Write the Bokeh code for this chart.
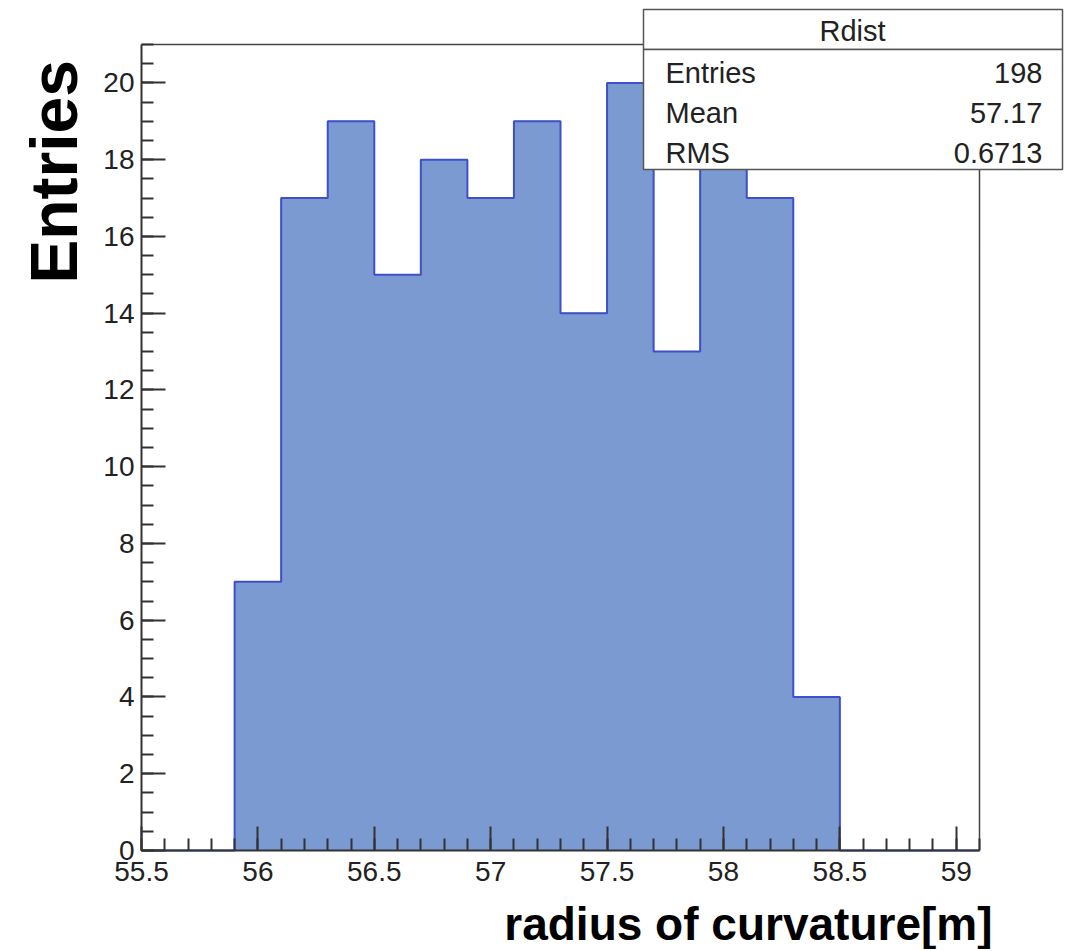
import numpy as np
from bokeh.plotting import figure
from bokeh.models import Range1d, SingleIntervalTicker, Label, BoxAnnotation, CustomJSTickFormatter
from bokeh.embed import file_html
from bokeh.resources import INLINE

# ---- data ----
bin_edges = [55.5, 55.7, 55.9, 56.1, 56.3, 56.5, 56.7, 56.9, 57.1, 57.3,
             57.5, 57.7, 57.9, 58.1, 58.3, 58.5, 58.7, 58.9, 59.1]
counts = [0, 0, 7, 17, 19, 15, 18, 17, 19, 14, 20, 13, 18, 17, 4, 0, 0, 0]
stats_title = "Rdist"
stats_names = ["Entries", "Mean", "RMS"]
stats_values = ["198", "57.17", "0.6713"]
x_label = "radius of curvature[m]"
y_label = "Entries"

X0, X1, Y0, Y1 = 55.5, 59.1, 0.0, 21.0
# histogram frame position on the canvas (pixels)
FL, FR, FT, FB = 141, 979, 44, 850
W, H = 1064, 949

def dx(px):
    return X0 + (px - FL) * (X1 - X0) / (FR - FL)

def dy(py):
    return Y0 + (FB - py) * (Y1 - Y0) / (FB - FT)

# plotting area covers the whole canvas; axes are pinned at the histogram frame
p = figure(width=W, height=H, output_backend="svg", toolbar_location=None, title=None,
           x_range=Range1d(dx(0), dx(W)), y_range=Range1d(dy(H), dy(0)),
           min_border_left=0, min_border_right=0,
           min_border_top=0, min_border_bottom=0)
p.background_fill_color = "white"
p.border_fill_color = "white"
p.xgrid.visible = False
p.ygrid.visible = False
p.outline_line_color = None

edges = np.array(bin_edges)
cnt = np.array(counts, dtype=float)
p.quad(left=edges[:-1], right=edges[1:], bottom=0, top=cnt,
       fill_color="#7B9AD2", line_color="#7B9AD2", line_width=1)
xs = np.repeat(edges, 2)
ys = np.concatenate([[0.0], np.repeat(cnt, 2), [0.0]])
p.line(xs, ys, line_color="#3F4FC8", line_width=2)

# top and right frame borders
p.line([X0, X1, X1], [Y1, Y1, Y0], line_color="#444444", line_width=1.5)

for ax in (p.xaxis[0], p.yaxis[0]):
    ax.axis_line_color = "#333333"
    ax.axis_line_width = 2
    ax.major_tick_in = 24
    ax.major_tick_out = 0
    ax.minor_tick_in = 12
    ax.minor_tick_out = 0
    ax.major_tick_line_color = "#333333"
    ax.minor_tick_line_color = "#333333"
    ax.major_tick_line_width = 2
    ax.minor_tick_line_width = 2
    ax.major_label_text_font = "Liberation Sans"
    ax.major_label_text_font_size = "28px"
    ax.major_label_text_color = "#222222"

p.xaxis[0].fixed_location = Y0
p.yaxis[0].fixed_location = X0
p.xaxis[0].bounds = (X0, X1)
p.yaxis[0].bounds = (Y0, Y1)
p.xaxis[0].ticker = SingleIntervalTicker(interval=0.5, num_minor_ticks=5)
p.xaxis[0].formatter = CustomJSTickFormatter(code="return String(Math.round(tick*10)/10);")
p.xaxis[0].major_label_standoff = 11
p.yaxis[0].ticker = SingleIntervalTicker(interval=2, num_minor_ticks=4)
p.yaxis[0].major_label_standoff = 7

# axis titles
p.add_layout(Label(x=dx(53), y=dy(171.5), text=y_label, angle=np.pi / 2,
                   text_align="center", text_baseline="alphabetic",
                   text_font="Liberation Sans", text_font_style="bold",
                   text_font_size="66px", text_color="black"))
p.add_layout(Label(x=dx(992), y=dy(923), text=x_label,
                   text_align="right", text_baseline="alphabetic",
                   text_font="Liberation Sans", text_font_style="bold",
                   text_font_size="46px", text_color="black"))

# stats box
p.add_layout(BoxAnnotation(left=dx(643), right=dx(1062), top=dy(9), bottom=dy(49),
                           fill_color="white", fill_alpha=1.0,
                           line_color="#555555", line_width=1.5, line_alpha=1.0))
p.add_layout(BoxAnnotation(left=dx(643), right=dx(1062), top=dy(49), bottom=dy(169),
                           fill_color="white", fill_alpha=1.0,
                           line_color="#555555", line_width=1.5, line_alpha=1.0))
p.add_layout(Label(x=dx(852), y=dy(30), text=stats_title, text_align="center",
                   text_baseline="middle", text_font="Liberation Sans",
                   text_font_size="29px", text_color="#222222"))
row_y = [72, 112, 152]
for name, val, ry in zip(stats_names, stats_values, row_y):
    p.add_layout(Label(x=dx(665), y=dy(ry), text=name, text_align="left",
                       text_baseline="middle", text_font="Liberation Sans",
                       text_font_size="29px", text_color="#222222"))
    p.add_layout(Label(x=dx(1042), y=dy(ry), text=val, text_align="right",
                       text_baseline="middle", text_font="Liberation Sans",
                       text_font_size="29px", text_color="#222222"))

open("out.html", "w").write(file_html(p, INLINE))
